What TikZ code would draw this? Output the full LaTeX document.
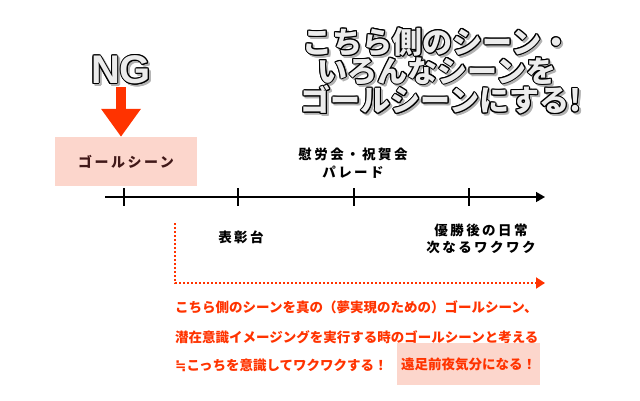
\documentclass[tikz,border=0pt]{standalone}
\usepackage{fontspec}
\setmainfont{Liberation Sans}
\newfontfamily\jpfont{Noto Sans CJK JP}
\newfontfamily\jpspaced{Noto Sans CJK JP}[LetterSpace=18]
\newfontfamily\symfont{DejaVu Sans}
\usetikzlibrary{arrows.meta,calc,positioning}

\definecolor{signalred}{RGB}{255,51,0}
\definecolor{goalpink}{RGB}{252,214,204}
\definecolor{goalbrown}{RGB}{64,24,24}
\definecolor{letterwhite}{RGB}{236,236,236}

% white letters with a black rim and a grey shadow
\newcommand\hollowtext[4]{%
  \foreach \a in {0,45,...,315}
    \node[#2,text=black!30] at ($(#1)+(\a:1)+(2,2)$) {#4};
  \foreach \a in {0,30,...,330}
    \node[#2,text=black] at ($(#1)+(\a:1)$) {#4};
  \node[#2,text=letterwhite] (#3) at (#1) {#4};
}

\begin{document}
\begin{tikzpicture}[x=1pt,y=-1pt,line cap=butt,
    headline/.style={inner sep=0pt,font=\jpfont\bfseries\fontsize{30}{30}\selectfont},
    ngmark/.style={inner sep=0pt,font=\bfseries\fontsize{40}{40}\selectfont},
    pinkbox/.style={fill=goalpink,inner sep=0pt},
    stagelabel/.style={font=\jpspaced\bfseries\fontsize{13.5}{17}\selectfont,inner sep=0pt},
    redline/.style={font=\jpfont\bfseries\fontsize{13.5}{16}\selectfont,text=signalred,inner sep=0pt,anchor=west}]
    \useasboundingbox (0,0) rectangle (640,400);

    % heading
    \hollowtext{437,42}{headline}{head1}{こちら側のシーン・}
    \hollowtext{437,71}{headline}{head2}{いろんなシーンを}
    \hollowtext{441,100}{headline}{head3}{ゴールシーンにする!}
    \hollowtext{121,70}{ngmark}{ng}{NG}

    % goal scene box
    \node[pinkbox,minimum width=142,minimum height=49,text=goalbrown,
          font=\jpspaced\bfseries\fontsize{14}{16}\selectfont] (goal) at (126,161.5) {ゴールシーン};
    \draw[signalred,line width=10pt,-{Triangle[width=38pt,length=28pt]}]
        ([yshift=-3pt]ng.south) -- (ng.south |- goal.north);

    % time axis
    \coordinate (axisstart) at (105,197);
    \coordinate (axisend) at (545,197);
    \draw[line width=1.5pt,-{Triangle[width=10pt,length=9pt]}] (axisstart) -- (axisend);
    \foreach \x/\n in {124/tick1,238/tick2,354/tick3,469/tick4}
        \draw[line width=1.2pt] (\x,188) coordinate (\n) -- (\x,206);

    \node[stagelabel] (party) at (353,154) {慰労会・祝賀会};
    \node[stagelabel] (parade) at (353,172) {パレード};
    \node[stagelabel] (podium) at (241,237) {表彰台};
    \node[stagelabel] (daily) at (481,230) {優勝後の日常};
    \node[stagelabel] (next) at (481,247) {次なるワクワク};

    % dotted shift
    \coordinate (dotstart) at (175,223);
    \coordinate (dotcorner) at (175,283);
    \coordinate (dotend) at (545,283);
    \draw[signalred,line width=2pt,dash pattern=on 2pt off 2pt,
          -{Triangle[width=11pt,length=9pt]}] (dotstart) -- (dotcorner) -- (dotend);

    \node[redline] (said1) at (175,307) {こちら側のシーンを真の（夢実現のための）ゴールシーン、};
    \node[redline] (said2) at (175,337) {潜在意識イメージングを実行する時のゴールシーンと考える};
    \node[redline] (said3) at (175,365) {{\symfont\bfseries ≒}こっちを意識してワクワクする！};
    \node[pinkbox,minimum width=143,minimum height=42,text=signalred,
          font=\jpfont\bfseries\fontsize{13.5}{16}\selectfont] (eve) at (468.5,364) {遠足前夜気分になる！};
\end{tikzpicture}
\end{document}
